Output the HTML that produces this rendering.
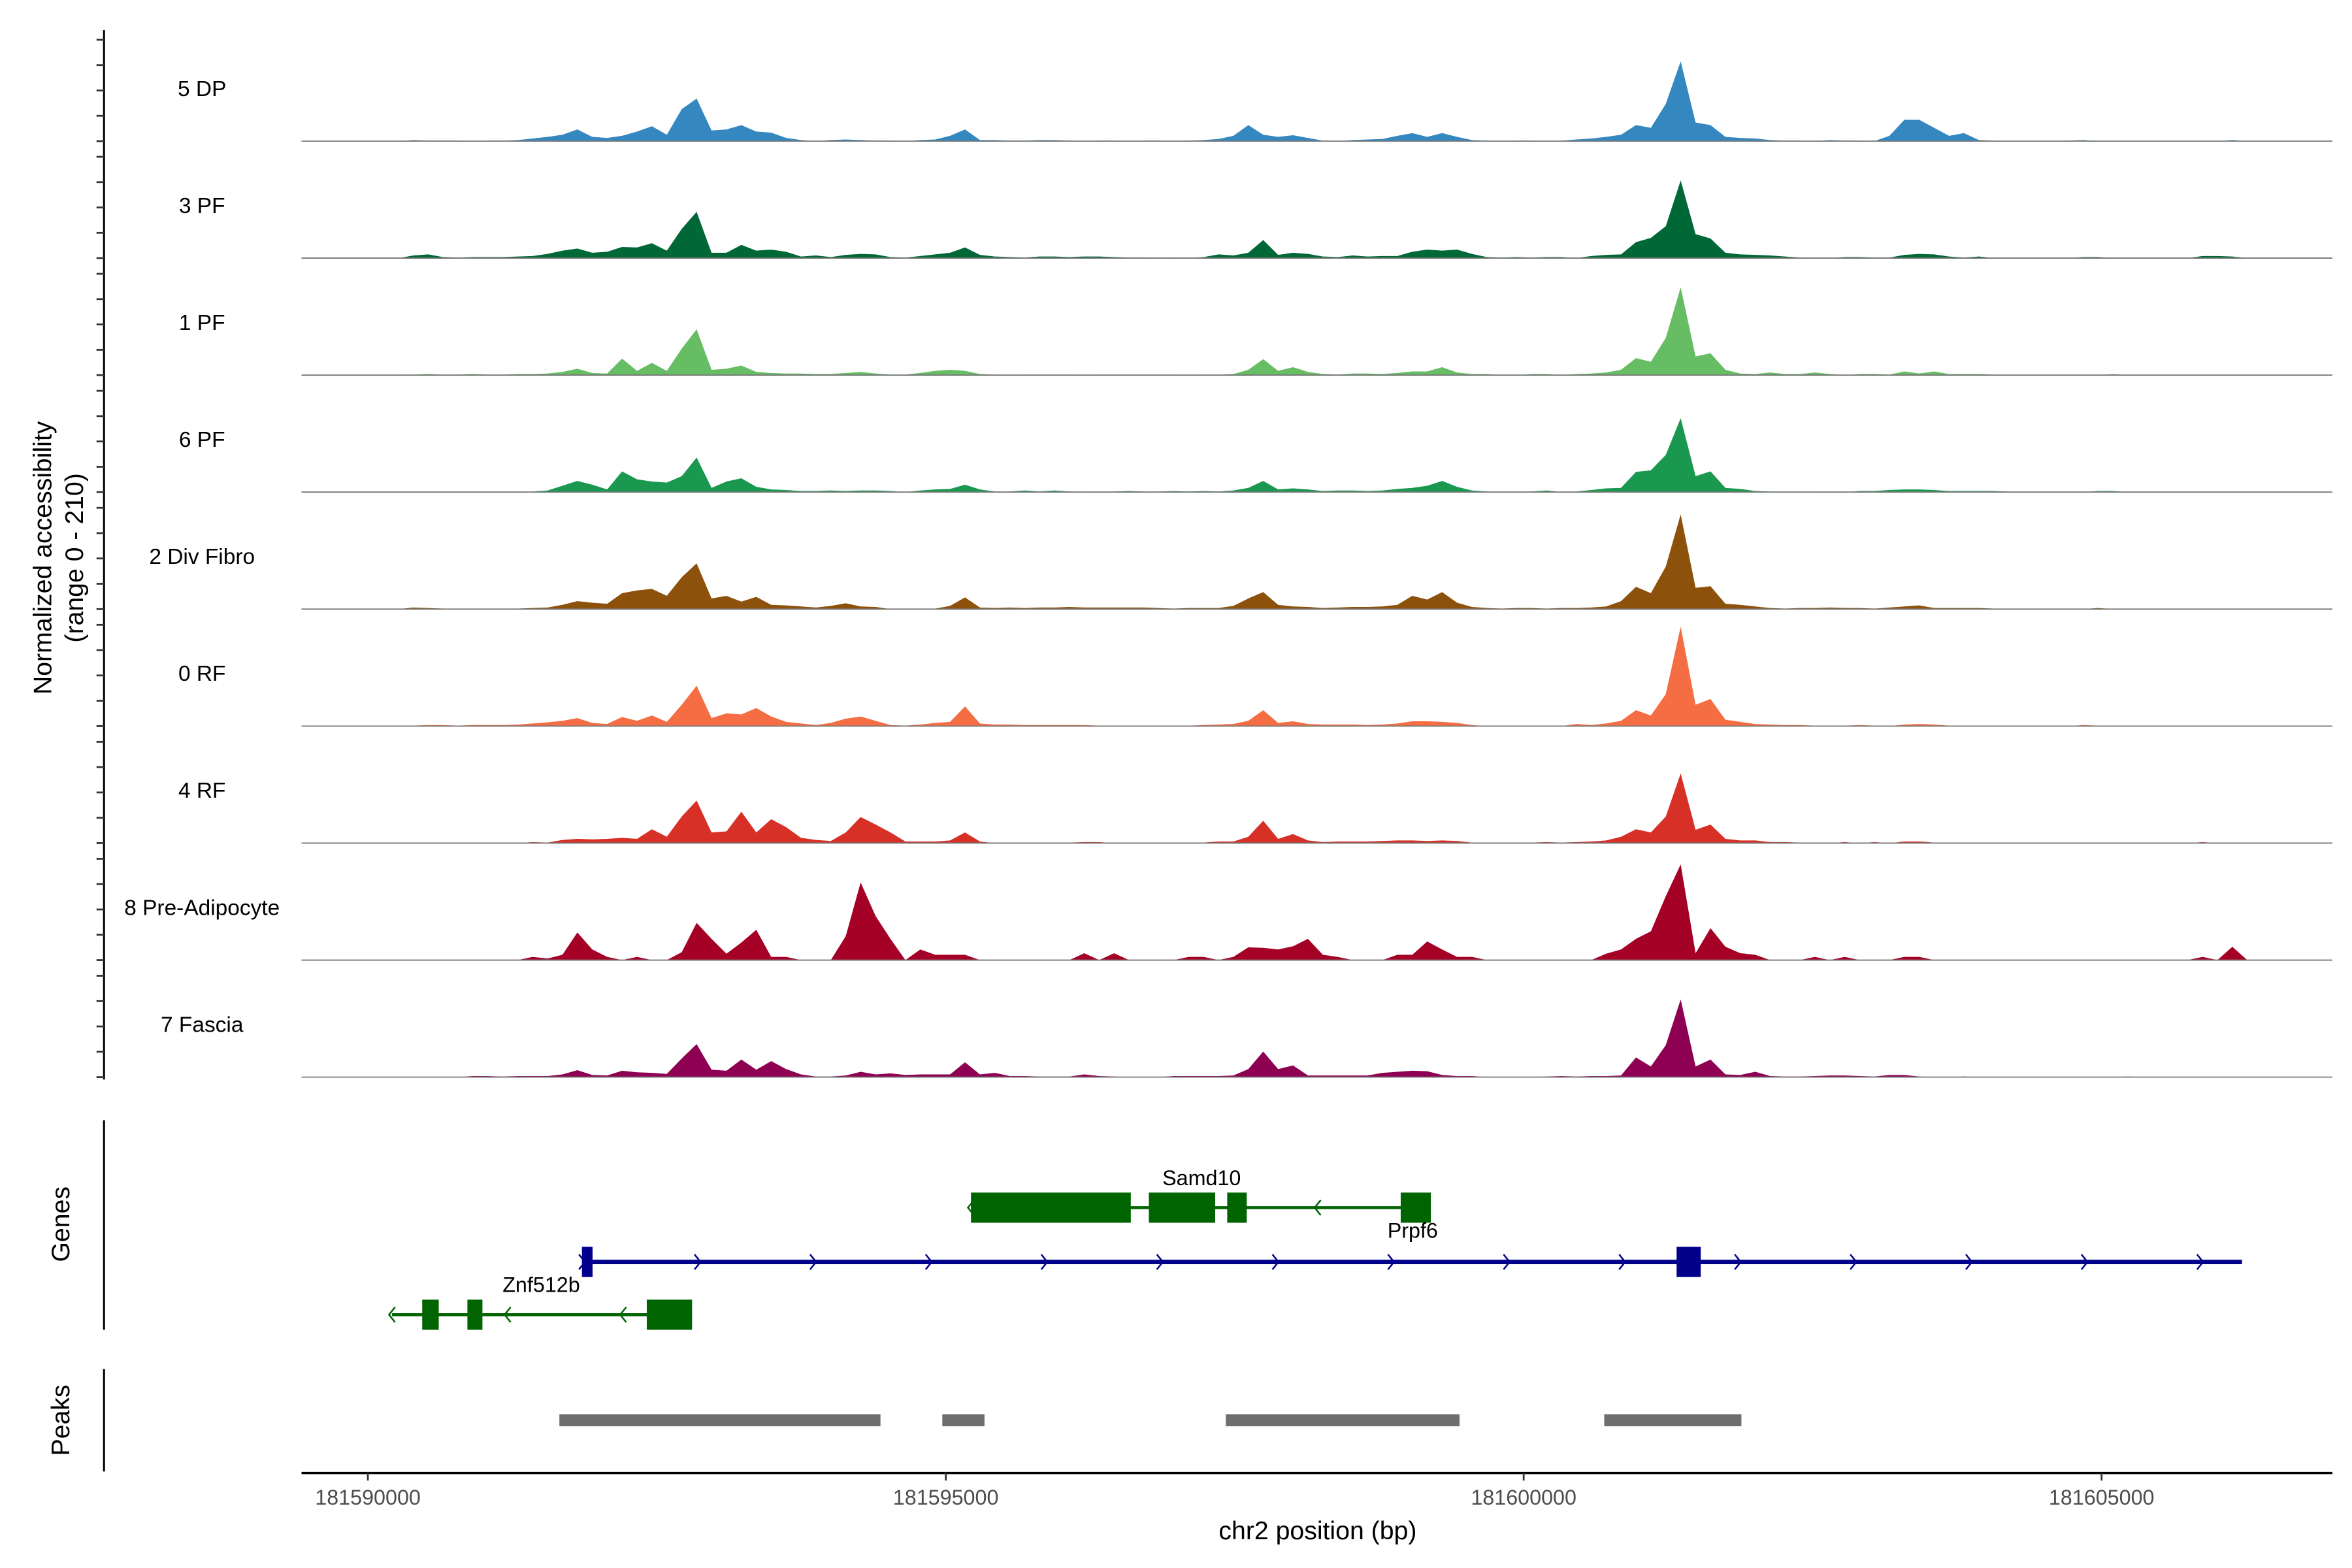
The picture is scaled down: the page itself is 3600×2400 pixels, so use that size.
<!DOCTYPE html>
<html><head><meta charset="utf-8"><style>
html,body{margin:0;padding:0;background:#fff;}
svg{display:block;font-family:"Liberation Sans",Arial,sans-serif;}
</style></head><body>
<svg id="chart" width="3600" height="2400" viewBox="0 0 1560 1040" xmlns="http://www.w3.org/2000/svg">
<rect width="1560" height="1040" fill="#fff"/>
<g id="tracks"></g>
<g id="yaxis">
<line x1="69" y1="20" x2="69" y2="716" stroke="#000" stroke-width="1.3"/>
</g>
<text transform="translate(34,370) rotate(-90)" text-anchor="middle" font-size="17">Normalized accessibility</text>
<text transform="translate(55,370) rotate(-90)" text-anchor="middle" font-size="17">(range 0 - 210)</text>
<g id="genes">
<line x1="69" y1="743" x2="69" y2="882" stroke="#000" stroke-width="1.3"/>
<text transform="translate(46,812) rotate(-90)" text-anchor="middle" font-size="17">Genes</text>
</g>
<g id="peaks">
<line x1="69" y1="908" x2="69" y2="976" stroke="#000" stroke-width="1.3"/>
<text transform="translate(46,942) rotate(-90)" text-anchor="middle" font-size="17">Peaks</text>
</g>
<g id="xaxis">
<line x1="200" y1="977" x2="1547" y2="977" stroke="#000" stroke-width="1.5"/>
</g>
<text x="874" y="1021" text-anchor="middle" font-size="17">chr2 position (bp)</text>
</svg>
<script>
const trackNames = ["5 DP","3 PF","1 PF","6 PF","2 Div Fibro","0 RF","4 RF","8 Pre-Adipocyte","7 Fascia"];
const trackColors = ["#3587C0","#006837","#66BD63","#1A9850","#8C510A","#F46D43","#D73027","#A50026","#8E0152"];
const binStart = 181589426;
const binSize = 129;
const yMax = 210;
const t5DP = [0,0,0,0,0,0,0,2,1,1, 1,0,1,1,2,5,8,12,22,8, 6,10,18,28,12,60,80,20,22,30, 18,16,6,2,0,2,3,2,1,1, 0,2,3,10,22,2,2,1,1,2, 2,1,0,1,1,0,1,1,0,1, 2,4,10,30,12,8,11,6,1,0, 2,3,4,10,15,8,15,8,2,1, 0,1,1,0,1,3,5,8,12,30, 25,70,150,35,30,8,6,5,2,1, 1,0,2,1,1,0,10,40,40,25, 10,15,2,1,0,0,0,0,1,2, 0,0,0,0,0,0,0,0,0,2, 0,0,0,0,0];
const t3PF = [0,0,0,0,0,0,0,5,7,2, 1,2,2,2,3,4,8,14,18,10, 12,21,20,28,14,55,87,10,10,25, 14,16,12,3,5,2,6,8,7,2, 1,4,7,10,20,6,3,2,1,3, 3,2,3,3,2,1,1,0,1,0, 2,7,5,10,34,6,10,8,3,2, 5,3,4,4,12,16,14,16,8,2, 1,2,1,2,2,0,4,6,7,30, 38,60,146,45,37,10,7,6,5,3, 1,0,0,2,2,1,1,6,8,7, 3,1,3,0,0,0,0,0,0,2, 2,0,0,0,0,0,0,4,4,3, 0,0,0,0,0];
const t1PF = [0,0,0,0,0,0,1,1,2,1, 1,2,1,1,2,2,3,6,12,4, 3,31,8,23,8,50,86,10,12,18, 6,4,3,3,2,2,4,6,3,1, 1,4,8,10,8,2,1,0,1,1, 1,1,0,1,1,1,1,1,1,0, 1,1,2,10,30,8,15,6,2,1, 3,3,2,4,7,7,15,5,2,2, 0,0,2,2,0,2,3,5,10,32, 25,70,165,35,41,10,3,2,5,2, 2,5,2,0,2,2,1,7,3,7, 2,2,2,1,0,0,0,0,0,0, 0,2,0,0,0,0,0,0,0,0, 0,0,0,0,0];
const t6PF = [0,0,0,0,0,0,0,0,1,0, 0,0,0,0,0,1,3,12,21,14, 5,39,24,20,18,30,65,8,20,26, 10,5,4,2,2,3,2,3,3,2, 0,3,5,6,14,5,1,1,3,1, 3,1,1,0,1,2,1,1,2,1, 2,1,3,8,21,5,7,5,2,3, 3,2,3,6,8,12,21,10,3,1, 1,1,1,3,0,1,4,7,8,38, 41,70,139,30,39,8,6,2,1,1, 1,1,0,0,2,2,4,5,5,4, 2,2,2,2,1,0,0,0,0,0, 2,2,0,0,0,0,0,0,0,0, 0,0,0,0,0];
const t2DivFibro = [0,0,0,0,0,0,0,3,2,1, 0,0,0,1,1,2,3,8,15,12, 10,30,35,38,25,60,86,20,25,14, 23,8,7,5,3,6,11,5,4,0, 1,1,1,6,22,3,2,3,2,3, 3,4,3,3,3,3,3,2,1,2, 2,2,6,20,32,8,5,4,2,3, 4,4,5,8,25,18,32,12,4,2, 1,2,2,1,2,2,3,5,15,42, 30,80,178,40,43,10,8,5,2,1, 2,2,3,2,2,1,3,5,7,2, 2,2,2,1,0,0,0,0,0,0, 2,0,0,0,0,1,1,0,0,0, 0,0,0,0,0];
const t0RF = [0,0,0,0,0,0,0,1,2,2, 1,2,2,2,3,5,7,10,15,6, 4,17,10,20,8,40,76,15,24,22, 34,18,8,5,2,6,14,18,10,2, 1,3,6,8,37,5,3,3,2,2, 2,2,2,1,1,0,0,0,1,1, 2,3,4,10,30,6,9,4,3,3, 3,2,3,5,9,9,8,6,2,0, 0,1,1,1,0,4,2,5,10,30, 20,60,187,40,51,12,8,4,3,2, 2,1,1,1,2,1,0,3,4,3, 1,1,1,1,0,0,0,0,0,2, 1,0,0,0,0,0,0,1,1,0, 0,0,0,0,0];
const t4RF = [0,0,0,0,0,0,0,0,0,0, 0,1,0,0,0,2,1,6,8,7, 8,10,8,26,12,50,80,20,22,59, 20,45,30,10,6,4,20,49,35,20, 3,3,3,5,20,3,0,0,0,0, 0,1,2,2,0,0,0,0,1,0, 1,3,3,12,42,8,17,5,2,3, 3,3,4,5,5,4,5,4,1,0, 0,0,1,2,1,2,3,5,12,26, 20,50,131,25,35,8,5,5,2,2, 1,0,0,2,0,2,0,3,3,1, 1,1,1,0,0,0,0,0,0,1, 1,1,0,0,0,0,0,2,0,0, 0,0,0,0,0];
const t8PreAdipocyte = [0,0,0,0,0,0,0,0,0,0, 0,0,0,0,0,6,3,10,52,20, 6,0,6,0,0,15,70,40,12,33, 57,6,6,0,0,0,45,146,83,40, 0,20,10,10,10,0,0,0,0,0, 0,0,13,0,13,0,0,0,0,6, 6,0,6,24,23,20,26,40,10,6, 0,0,0,10,10,35,20,6,6,0, 0,0,0,0,0,0,0,12,20,40, 54,120,180,13,60,25,13,10,0,0, 0,6,0,6,0,0,0,6,6,0, 0,0,0,0,0,0,0,0,0,0, 0,0,0,0,0,0,0,6,0,25, 0,0,0,0,0];
const t7Fascia = [0,0,0,0,0,0,0,0,0,0, 0,2,2,1,2,2,2,5,13,4, 3,12,9,8,6,35,62,14,12,33, 14,30,15,5,1,1,3,10,5,7, 4,5,5,5,28,5,8,2,2,1, 1,1,5,2,1,0,0,0,2,2, 2,2,3,15,48,15,22,3,3,3, 3,3,8,10,12,11,4,2,2,0, 0,0,0,1,2,1,2,2,3,37, 20,60,146,20,33,5,4,10,2,1, 1,2,3,3,2,1,4,4,1,0, 0,1,0,0,0,0,0,0,0,0, 0,0,1,0,0,0,0,0,0,0, 0,0,0,0,0];
const trackValues = [t5DP,t3PF,t1PF,t6PF,t2DivFibro,t0RF,t4RF,t8PreAdipocyte,t7Fascia];

const xTicks = [181590000,181595000,181600000,181605000];
const peakStarts = [181591657,181594970,181597423,181600697];
const peakEnds = [181594435,181595335,181599445,181601884];

const geneNames = ["Samd10","Prpf6","Znf512b"];
const geneStarts = [181595218,181591852,181590209];
const geneEnds = [181599197,181606215,181592805];
const geneStrands = [-1,1,-1];
const geneExonStarts = [[181595218,181596757,181597435,181598936],[181591852,181601323],[181590470,181590861,181592413]];
const geneExonEnds = [[181596601,181597331,181597604,181599197],[181591944,181601532],[181590613,181590991,181592805]];

const NS = "http://www.w3.org/2000/svg";
const X0 = 244, PX_PER_BP = 383.3/5000, GX0 = 181590000;
function xs(g){ return X0 + (g - GX0) * PX_PER_BP; }
const TRACK_TOP = 20, TRACK_H = 77.6;
function baseY(i){ return TRACK_TOP + (i+1)*TRACK_H - 4; }
function ys(i, v){ return baseY(i) - v/yMax*(TRACK_H*0.955); }
function mk(tag, attrs, parent){ const e=document.createElementNS(NS,tag); for(const k in attrs) e.setAttribute(k,attrs[k]); parent.appendChild(e); return e; }

const tracks = document.getElementById('tracks');
const yaxis = document.getElementById('yaxis');
trackNames.forEach((name, i) => {
  const g = mk('g', {}, tracks);
  
  
  const vals = trackValues[i];
  const b = baseY(i);
  let d = 'M' + xs(binStart).toFixed(2) + ',' + b;
  vals.forEach((v, k) => {
    const gx = binStart + (k + 0.5) * binSize;
    d += ' L' + xs(gx).toFixed(2) + ',' + ys(i, v).toFixed(2);
  });
  d += ' L' + xs(binStart + vals.length*binSize).toFixed(2) + ',' + b + ' Z';
  const area = mk('path', {d: d, fill: trackColors[i]}, g);
  
  
  const bl = mk('line', {x1:200, x2:1547, y1:b, y2:b, stroke:'#777', 'stroke-width':0.8}, g);
  
  
  const lab = mk('text', {x:134, y:b-30, 'text-anchor':'middle', 'font-size':14.5}, g);
  lab.textContent = name;
  
  
  for (let k=0;k<5;k++){
    const ty = b - k*16.8;
    const t = mk('line', {x1:64, x2:69, y1:ty, y2:ty, stroke:'#333', 'stroke-width':1.2}, yaxis);
    
    
  }
});

const xaxis = document.getElementById('xaxis');
xTicks.forEach(v => {
  const x = xs(v);
  const t = mk('line', {x1:x, x2:x, y1:977, y2:982, stroke:'#333', 'stroke-width':1.2}, xaxis);
  
  
  const l = mk('text', {x:x, y:998, 'text-anchor':'middle', 'font-size':14, fill:'#4D4D4D'}, xaxis);
  l.textContent = String(v);
  
  
});

const peaks = document.getElementById('peaks');
peakStarts.forEach((s, k) => {
  const r = mk('rect', {x:xs(s), y:938, width:xs(peakEnds[k])-xs(s), height:8, fill:'#6E6E6E'}, peaks);
  
  
});

const genes = document.getElementById('genes');
const geneRowY = [801, 837, 872];
const geneColors = ['#006400','#00008B','#006400'];
const geneLineW = [2, 3, 2];
const labelPos = [[797,786],[937,821],[359,857]];
geneNames.forEach((name, k) => {
  const g = mk('g', {}, genes);
  
  
  const y = geneRowY[k], c = geneColors[k];
  const ln = mk('line', {x1:xs(geneStarts[k]), x2:xs(geneEnds[k]), y1:y, y2:y, stroke:c, 'stroke-width':geneLineW[k]}, g);
  
  
  for (let p = geneStarts[k]; p <= geneEnds[k]; p += 1000) {
    const x = xs(p);
    const dir = geneStrands[k];
    const a = mk('path', {d:'M'+(x-2*dir)+','+(y-5)+' L'+(x+2*dir)+','+y+' L'+(x-2*dir)+','+(y+5), fill:'none', stroke:c, 'stroke-width':1.1}, g);
    
    
  }
  geneExonStarts[k].forEach((s, j) => {
    const e = geneExonEnds[k][j];
    const r = mk('rect', {x:xs(s), y:y-10, width:Math.max(xs(e)-xs(s),3), height:20, fill:c}, g);
    
    
  });
  const t = mk('text', {x:labelPos[k][0], y:labelPos[k][1], 'text-anchor':'middle', 'font-size':14}, g);
  t.textContent = name;
  
  
});
</script>
</body></html>
